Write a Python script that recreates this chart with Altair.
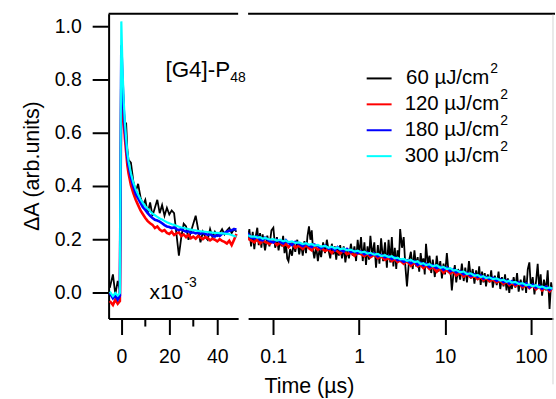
import altair as alt
import pandas as pd

FONT = "Liberation Sans"

SERIES = ["60", "120", "180", "300"]
COLORS = ["#000000", "#ff0000", "#0000ff", "#00ffff"]
WIDTHS = [1.8, 2.6, 2.6, 2.2]
LEGEND_LABELS = ["60 µJ/cm", "120 µJ/cm", "180 µJ/cm", "300 µJ/cm"]

# ---- left panel: time in ns (x10^-3 µs) ----
LEFT_T = [-4.8, -3.5, -2.5, -1.5, -0.6, 0.0, 0.5, 1, 1.5, 2, 2.5, 3,
          4, 5, 6, 7, 8, 9, 10, 11, 12, 13, 14, 15, 16, 17, 18, 19, 20, 21, 22, 23,
          24, 25, 26, 27, 28, 29, 30, 31, 32, 33, 34, 35, 36, 37, 38, 39, 40, 41, 42, 43,
          44, 45, 46, 47, 48]

LEFT_60 = [0.020, 0.070, -0.005, 0.045, 0.010, 0.830, 0.800, 0.700, 0.620, 0.640, 0.540, 0.500,
           0.490, 0.420, 0.380, 0.410, 0.360, 0.330, 0.350, 0.300, 0.340, 0.290,
           0.320, 0.350, 0.300, 0.330, 0.290, 0.320, 0.295, 0.310, 0.300, 0.220,
           0.140, 0.210, 0.260, 0.250, 0.200, 0.230, 0.260, 0.290, 0.240, 0.190,
           0.230, 0.210, 0.200, 0.240, 0.210, 0.230, 0.215, 0.225, 0.240, 0.220,
           0.235, 0.245, 0.225, 0.240, 0.230]
LEFT_120 = [-0.030, -0.045, -0.025, -0.040, -0.030, 0.800, 0.720, 0.640, 0.580, 0.530, 0.480, 0.450,
            0.405, 0.375, 0.350, 0.330, 0.310, 0.296, 0.282, 0.270, 0.262, 0.256,
            0.244, 0.250, 0.238, 0.232, 0.236, 0.226, 0.222, 0.230, 0.218, 0.224,
            0.228, 0.214, 0.220, 0.210, 0.218, 0.206, 0.212, 0.204, 0.214, 0.208,
            0.202, 0.210, 0.206, 0.198, 0.204, 0.200, 0.194, 0.202, 0.196, 0.192,
            0.186, 0.196, 0.180, 0.200, 0.222]
LEFT_180 = [0.000, -0.020, -0.010, -0.025, -0.010, 0.930, 0.800, 0.690, 0.610, 0.560, 0.510, 0.480,
            0.435, 0.400, 0.372, 0.355, 0.338, 0.322, 0.312, 0.300, 0.290, 0.282,
            0.275, 0.272, 0.268, 0.262, 0.255, 0.250, 0.248, 0.244, 0.246, 0.240,
            0.236, 0.240, 0.234, 0.230, 0.232, 0.226, 0.228, 0.224, 0.226, 0.222,
            0.226, 0.222, 0.218, 0.222, 0.215, 0.212, 0.218, 0.214, 0.222, 0.226,
            0.230, 0.234, 0.236, 0.240, 0.238]
LEFT_300 = [0.005, -0.012, 0.000, -0.010, 0.000, 1.020, 0.840, 0.720, 0.640, 0.580, 0.530, 0.495,
            0.450, 0.415, 0.390, 0.370, 0.352, 0.338, 0.326, 0.316, 0.306, 0.298,
            0.292, 0.286, 0.280, 0.276, 0.271, 0.266, 0.262, 0.258, 0.256, 0.252,
            0.249, 0.246, 0.245, 0.242, 0.240, 0.238, 0.236, 0.235, 0.233, 0.232,
            0.231, 0.230, 0.229, 0.228, 0.227, 0.226, 0.226, 0.225, 0.224, 0.223,
            0.222, 0.221, 0.218, 0.214, 0.212]

# ---- right panel: time in µs (log) ----
# black (60 µJ/cm2) trace is sampled more densely
RIGHT_T_60 = [0.05, 0.0525, 0.055, 0.0575, 0.06, 0.0625, 0.065, 0.0675, 0.07, 0.0725,
              0.075, 0.0775, 0.08, 0.085, 0.09, 0.095, 0.1, 0.105, 0.11, 0.115,
              0.12, 0.125, 0.13, 0.135, 0.14, 0.145, 0.15, 0.157, 0.165, 0.172,
              0.18, 0.19, 0.2, 0.21, 0.22, 0.23, 0.24, 0.25, 0.26, 0.27,
              0.28, 0.29, 0.3, 0.315, 0.33, 0.345, 0.36, 0.38, 0.4, 0.42,
              0.44, 0.46, 0.48, 0.5, 0.52, 0.54, 0.56, 0.58, 0.6, 0.63,
              0.66, 0.69, 0.72, 0.76, 0.8, 0.84, 0.88, 0.92, 0.96, 1.0,
              1.05, 1.1, 1.15, 1.2, 1.25, 1.3, 1.35, 1.42, 1.5, 1.57,
              1.65, 1.72, 1.8, 1.9, 2.0, 2.1, 2.2, 2.3, 2.4, 2.5,
              2.6, 2.7, 2.8, 2.9, 3.0, 3.15, 3.3, 3.45, 3.6, 3.8,
              4.0, 4.2, 4.4, 4.6, 4.8, 5.0, 5.2, 5.4, 5.6, 5.8,
              6.0, 6.3, 6.6, 6.9, 7.2, 7.6, 8.0, 8.4, 8.8, 9.2,
              9.6, 10, 10.5, 11, 11.5, 12, 12.5, 13, 13.5, 14.2,
              15, 15.7, 16.5, 17.2, 18, 19, 20, 21, 22, 23,
              24, 25, 26, 27, 28, 29, 30, 31.5, 33, 34.5,
              36, 38, 40, 42, 44, 46, 48, 50, 52, 54,
              56, 58, 60, 63, 66, 69, 72, 76, 80, 84,
              88, 92, 96, 100, 105, 110, 115, 120, 125, 130,
              135, 142, 150, 157, 165, 172, 178]
RIGHT_60 = [0.200, 0.240, 0.175, 0.230, 0.165, 0.215, 0.245, 0.180, 0.225, 0.170,
            0.220, 0.190, 0.160, 0.215, 0.175, 0.235, 0.245, 0.170, 0.210, 0.160,
            0.200, 0.175, 0.215, 0.150, 0.190, 0.130, 0.120, 0.165, 0.140, 0.185,
            0.155, 0.200, 0.145, 0.185, 0.140, 0.195, 0.150, 0.215, 0.250, 0.200,
            0.235, 0.160, 0.130, 0.175, 0.120, 0.165, 0.135, 0.190, 0.150, 0.200,
            0.160, 0.130, 0.185, 0.145, 0.175, 0.125, 0.170, 0.140, 0.180, 0.130,
            0.175, 0.115, 0.160, 0.130, 0.185, 0.140, 0.175, 0.120, 0.200, 0.145,
            0.210, 0.120, 0.190, 0.105, 0.175, 0.125, 0.215, 0.140, 0.190, 0.095,
            0.180, 0.110, 0.205, 0.120, 0.190, 0.095, 0.200, 0.115, 0.210, 0.100,
            0.170, 0.090, 0.160, 0.120, 0.240, 0.170, 0.210, 0.100, 0.025, 0.120,
            0.155, 0.090, 0.160, 0.100, 0.135, 0.080, 0.150, 0.105, 0.130, 0.070,
            0.185, 0.110, 0.140, 0.075, 0.125, 0.060, 0.140, 0.080, 0.120, 0.055,
            0.110, 0.070, 0.150, 0.075, 0.095, 0.010, 0.070, 0.105, 0.040, 0.090,
            0.050, 0.110, 0.045, 0.095, 0.040, 0.120, 0.055, 0.090, 0.035, 0.085,
            0.050, 0.100, 0.030, 0.080, 0.040, 0.075, 0.025, 0.070, 0.040, 0.085,
            0.020, 0.065, 0.030, 0.080, 0.015, 0.060, 0.025, 0.070, 0.010, 0.055,
            0.000, 0.045, 0.015, 0.060, 0.020, 0.075, 0.005, 0.050, 0.010, 0.065,
            0.000, 0.090, 0.115, 0.020, 0.060, -0.005, 0.045, 0.110, 0.015, 0.070,
            -0.010, 0.050, 0.010, 0.085, -0.060, 0.040, 0.020]

RIGHT_T = [0.05, 0.055, 0.06, 0.065, 0.07, 0.075, 0.08, 0.09, 0.1, 0.11,
           0.12, 0.13, 0.14, 0.15, 0.165, 0.18, 0.2, 0.22, 0.24, 0.26,
           0.28, 0.3, 0.33, 0.36, 0.4, 0.44, 0.48, 0.52, 0.56, 0.6,
           0.66, 0.72, 0.8, 0.88, 0.96, 1.05, 1.15, 1.25, 1.35, 1.5,
           1.65, 1.8, 2.0, 2.2, 2.4, 2.6, 2.8, 3.0, 3.3, 3.6,
           4.0, 4.4, 4.8, 5.2, 5.6, 6.0, 6.6, 7.2, 8.0, 8.8,
           9.6, 10.5, 11.5, 12.5, 13.5, 15, 16.5, 18, 20, 22,
           24, 26, 28, 30, 33, 36, 40, 44, 48, 52,
           56, 60, 66, 72, 80, 88, 96, 105, 115, 125,
           135, 150, 165, 178]
RIGHT_120 = [0.205, 0.198, 0.190, 0.202, 0.186, 0.196, 0.192, 0.184, 0.195, 0.180,
             0.190, 0.178, 0.184, 0.172, 0.188, 0.170, 0.178, 0.166, 0.180, 0.168,
             0.160, 0.175, 0.162, 0.170, 0.158, 0.164, 0.150, 0.162, 0.156, 0.148,
             0.160, 0.146, 0.152, 0.140, 0.150, 0.146, 0.138, 0.148, 0.134, 0.144,
             0.130, 0.138, 0.124, 0.132, 0.120, 0.128, 0.116, 0.122, 0.110, 0.120,
             0.102, 0.114, 0.100, 0.106, 0.094, 0.104, 0.090, 0.098, 0.080, 0.094,
             0.076, 0.088, 0.074, 0.082, 0.066, 0.076, 0.062, 0.070, 0.058, 0.064,
             0.052, 0.060, 0.048, 0.056, 0.044, 0.050, 0.040, 0.046, 0.034, 0.044,
             0.030, 0.038, 0.026, 0.036, 0.022, 0.030, 0.018, 0.028, 0.014, 0.024,
             0.010, 0.022, 0.006, 0.018]
RIGHT_180 = [0.225, 0.208, 0.205, 0.212, 0.200, 0.198, 0.208, 0.196, 0.190, 0.200,
             0.192, 0.186, 0.198, 0.188, 0.180, 0.192, 0.184, 0.176, 0.186, 0.178,
             0.172, 0.182, 0.176, 0.168, 0.178, 0.166, 0.170, 0.160, 0.172, 0.163,
             0.156, 0.166, 0.154, 0.158, 0.150, 0.156, 0.146, 0.152, 0.142, 0.148,
             0.138, 0.143, 0.134, 0.139, 0.128, 0.134, 0.124, 0.126, 0.117, 0.123,
             0.112, 0.120, 0.106, 0.113, 0.104, 0.110, 0.098, 0.104, 0.094, 0.099,
             0.087, 0.095, 0.082, 0.088, 0.078, 0.082, 0.070, 0.075, 0.064, 0.070,
             0.060, 0.066, 0.054, 0.060, 0.052, 0.057, 0.046, 0.052, 0.041, 0.047,
             0.036, 0.044, 0.032, 0.040, 0.028, 0.036, 0.022, 0.031, 0.020, 0.028,
             0.016, 0.024, 0.012, 0.020]
RIGHT_300 = [0.217, 0.212, 0.213, 0.208, 0.210, 0.204, 0.207, 0.201, 0.202, 0.197,
             0.200, 0.194, 0.197, 0.191, 0.194, 0.188, 0.190, 0.184, 0.187, 0.181,
             0.184, 0.178, 0.181, 0.174, 0.177, 0.170, 0.174, 0.167, 0.171, 0.164,
             0.167, 0.160, 0.163, 0.156, 0.159, 0.152, 0.155, 0.148, 0.151, 0.144,
             0.147, 0.139, 0.142, 0.135, 0.138, 0.130, 0.133, 0.126, 0.128, 0.121,
             0.124, 0.116, 0.119, 0.109, 0.112, 0.105, 0.108, 0.100, 0.104, 0.095,
             0.098, 0.090, 0.093, 0.084, 0.087, 0.078, 0.081, 0.071, 0.074, 0.065,
             0.068, 0.060, 0.063, 0.056, 0.059, 0.052, 0.055, 0.047, 0.050, 0.042,
             0.046, 0.039, 0.042, 0.034, 0.037, 0.029, 0.032, 0.025, 0.029, 0.021,
             0.025, 0.017, 0.021, 0.016]

Y_TICKS = [0.0, 0.2, 0.4, 0.6, 0.8, 1.0]
Y_LABELS = ["0.0", "0.2", "0.4", "0.6", "0.8", "1.0"]
Y_TITLE = "ΔA (arb.units)"
LEFT_TICKS = [0, 20, 40]
LEFT_MINOR = [10, 30]
RIGHT_TICKS = [0.1, 1, 10, 100]

LEFT_SETS = [LEFT_60, LEFT_120, LEFT_180, LEFT_300]
RIGHT_TIMES = [RIGHT_T_60, RIGHT_T, RIGHT_T, RIGHT_T]
RIGHT_SETS = [RIGHT_60, RIGHT_120, RIGHT_180, RIGHT_300]
for s in LEFT_SETS:
    assert len(s) == len(LEFT_T), len(s)
for t, s in zip(RIGHT_TIMES, RIGHT_SETS):
    assert len(s) == len(t), (len(s), len(t))

LW, RW, H = 130, 306, 306

y_scale = alt.Scale(domain=[-0.096, 1.049], nice=False, zero=False)
lx_scale = alt.Scale(domain=[-5.3, 48.7], nice=False, zero=False)
rx_scale = alt.Scale(type="log", domain=[0.0508, 181], nice=False)

# y axis: only the axis line; ticks, labels and title drawn as layers below
y_axis = alt.Axis(values=Y_TICKS, labels=False, ticks=False, title=None, domain=True)
lx_axis = alt.Axis(values=LEFT_TICKS, title=None, labelPadding=13, tickSize=16,
                   labelFlush=False)
rx_axis = alt.Axis(values=RIGHT_TICKS, format="~g", title="Time (µs)", labelPadding=13,
                   tickSize=16, labelFlush=False, titleX=61, titleY=74,
                   titleAlign="center", titleBaseline="alphabetic", titleAnchor="start")


def frame(t, vals, name):
    return pd.DataFrame({"x": t, "y": vals, "s": name})


def text(t, x, y, size, align="left", angle=0):
    return alt.Chart(pd.DataFrame({"t": [t]})).mark_text(
        font=FONT, fontSize=size, align=align, baseline="middle", color="black", angle=angle
    ).encode(text="t:N", x=alt.value(x), y=alt.value(y))


def rule(x, x2, y, y2=None, color="black", w=2):
    enc = dict(x=alt.value(x), y=alt.value(y))
    if x2 is not None:
        enc["x2"] = alt.value(x2)
    if y2 is not None:
        enc["y2"] = alt.value(y2)
    return alt.Chart(pd.DataFrame({"a": [0]})).mark_rule(color=color, strokeWidth=w).encode(**enc)


yenc = alt.Y("y:Q", scale=y_scale, axis=y_axis)
left_layers = []
for name, vals, c, w in zip(SERIES, LEFT_SETS, COLORS, WIDTHS):
    left_layers.append(
        alt.Chart(frame(LEFT_T, vals, name)).mark_line(color=c, strokeWidth=w, clip=True).encode(
            x=alt.X("x:Q", scale=lx_scale, axis=lx_axis), y=yenc,
        )
    )
ydf = pd.DataFrame({"y": Y_TICKS, "lab": Y_LABELS})
y_ticks = alt.Chart(ydf).mark_rule(color="black", strokeWidth=2).encode(
    y=yenc, x=alt.value(-16), x2=alt.value(0)
)
y_labels = alt.Chart(ydf).mark_text(
    font=FONT, fontSize=19.5, align="right", baseline="middle", color="black"
).encode(y=yenc, x=alt.value(-27), text="lab:N")
minor = alt.Chart(pd.DataFrame({"x": LEFT_MINOR})).mark_rule(color="black", strokeWidth=2).encode(
    x=alt.X("x:Q", scale=lx_scale, axis=lx_axis), y=alt.value(H), y2=alt.value(H + 8)
)
left_layers += [
    y_ticks,
    y_labels,
    text(Y_TITLE, -76, H / 2, 21.5, align="center", angle=270),
    minor,
    rule(0, LW, 0),
    text("[G4]-P", 57, 57, 22.5),
    text("48", 122, 65, 14),
    text("x10", 41, 280, 21),
    text("-3", 76, 270, 14),
]
left = alt.layer(*left_layers).properties(width=LW, height=H)

right_layers = []
for name, t, vals, c, w in zip(SERIES, RIGHT_TIMES, RIGHT_SETS, COLORS, WIDTHS):
    right_layers.append(
        alt.Chart(frame(t, vals, name)).mark_line(color=c, strokeWidth=w, clip=True).encode(
            x=alt.X("x:Q", scale=rx_scale, axis=rx_axis),
            y=alt.Y("y:Q", scale=y_scale, axis=None),
        )
    )
right_layers.append(rule(0, RW + 2, 0))
right_layers.append(rule(RW, None, 1, 372, color="#d4d4d4", w=1))
for i, (lab, c) in enumerate(zip(LEGEND_LABELS, COLORS)):
    yy = 65 + 26 * i
    xend = 242 if i == 0 else 252
    right_layers.append(rule(119, 144, yy, color=c, w=2))
    right_layers.append(text(lab, xend, yy, 20.5, align="right"))
    right_layers.append(text("2", xend + 1, yy - 9, 14))
right = alt.layer(*right_layers).properties(width=RW, height=H)

chart = (
    alt.hconcat(left, right, spacing=10, bounds="flush")
    .properties(padding={"left": 22, "top": 12, "right": 0, "bottom": 0}, background="white")
    .configure_view(stroke=None)
    .configure_axis(
        labelFont=FONT, titleFont=FONT, labelFontSize=19.5, titleFontSize=21.5,
        titleFontWeight="normal", labelColor="black", titleColor="black",
        domainColor="black", tickColor="black", domainWidth=2, tickWidth=2, grid=False,
    )
)

chart.save("out.html", embed_options={"renderer": "svg", "actions": False})
